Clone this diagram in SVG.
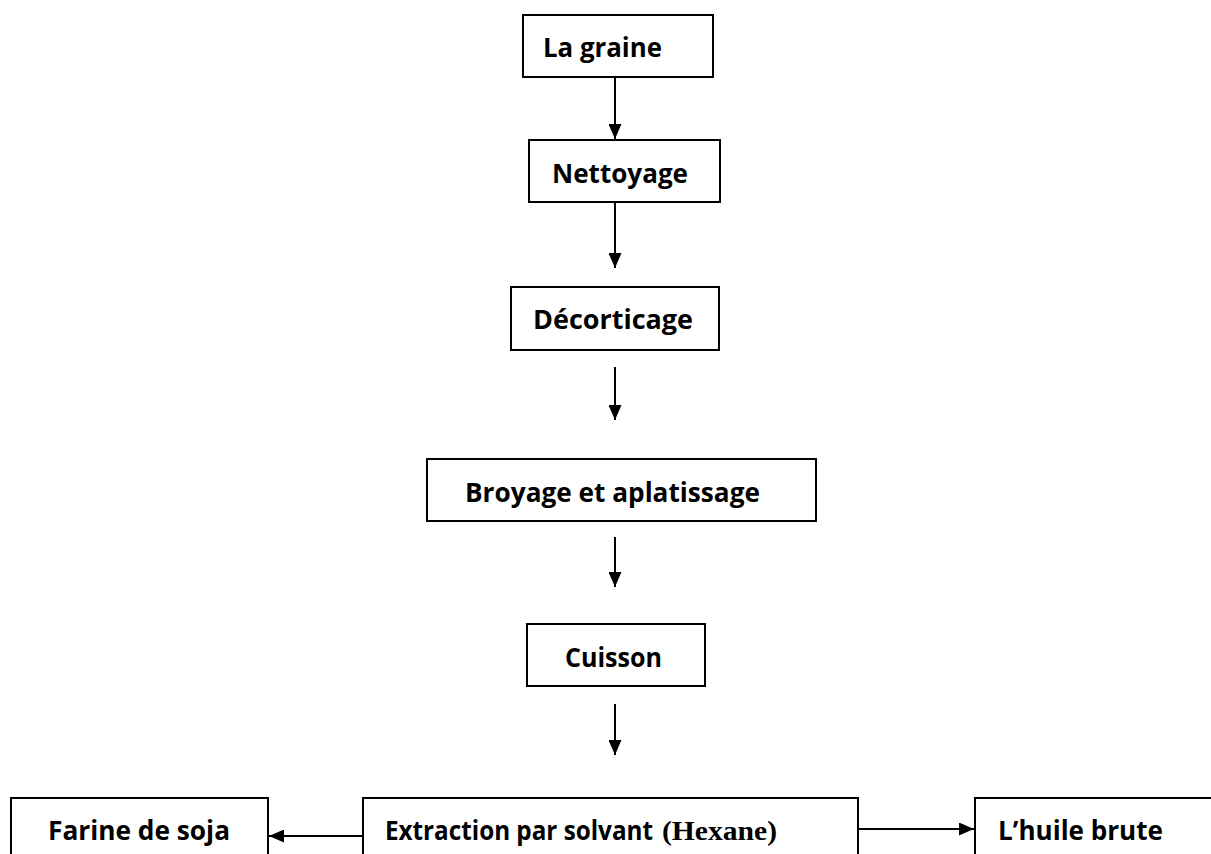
<svg xmlns="http://www.w3.org/2000/svg" width="1211" height="854" viewBox="0 0 1211 854">
<defs>
<marker id="ah" viewBox="0 0 15 13" refX="15" refY="6.5" markerWidth="15" markerHeight="13" markerUnits="userSpaceOnUse" orient="auto">
<path d="M0,0 L15,6.5 L0,13 Z" fill="#000"/>
</marker>
<style>
.box{fill:#fff;stroke:#000;stroke-width:2}
.t{font-family:"Open Sans",Lato,"Liberation Sans",sans-serif;font-weight:bold;font-size:26px;fill:#000}
.s{font-family:"Liberation Serif",serif;font-weight:bold;font-size:28px}
.c{stroke:#000;stroke-width:2;fill:none;marker-end:url(#ah)}
</style>
</defs>
<rect width="1211" height="854" fill="#fff"/>
<g id="n1"><rect class="box" x="523" y="15" width="190" height="62"/><text class="t" x="543" y="57" textLength="119" lengthAdjust="spacingAndGlyphs">La graine</text></g>
<g id="n2"><rect class="box" x="529" y="140" width="191" height="62"/><text class="t" x="552" y="183" textLength="136" lengthAdjust="spacingAndGlyphs">Nettoyage</text></g>
<g id="n3"><rect class="box" x="511" y="287" width="208" height="63"/><text class="t" x="533" y="329" textLength="160" lengthAdjust="spacingAndGlyphs">Décorticage</text></g>
<g id="n4"><rect class="box" x="427" y="459" width="389" height="62"/><text class="t" x="465" y="502" textLength="295" lengthAdjust="spacingAndGlyphs">Broyage et aplatissage</text></g>
<g id="n5"><rect class="box" x="527" y="624" width="178" height="62"/><text class="t" x="565" y="667" textLength="97" lengthAdjust="spacingAndGlyphs">Cuisson</text></g>
<g id="n6"><rect class="box" x="11" y="798" width="257" height="70"/><text class="t" x="48" y="840" textLength="182" lengthAdjust="spacingAndGlyphs">Farine de soja</text></g>
<g id="n7"><rect class="box" x="363" y="798" width="495" height="70"/><text class="t" x="385" y="840" textLength="268" lengthAdjust="spacingAndGlyphs">Extraction par solvant</text><text class="s" x="662" y="840" textLength="115" lengthAdjust="spacingAndGlyphs">(Hexane)</text></g>
<g id="n8"><rect class="box" x="975" y="798" width="250" height="70"/><text class="t" x="998" y="840" textLength="165" lengthAdjust="spacingAndGlyphs">L’huile brute</text></g>
<g id="connectors">
<line class="c" x1="615" y1="77" x2="615" y2="139"/>
<line class="c" x1="615" y1="202" x2="615" y2="268"/>
<line class="c" x1="615" y1="367" x2="615" y2="420"/>
<line class="c" x1="615" y1="537" x2="615" y2="587"/>
<line class="c" x1="615" y1="704" x2="615" y2="755"/>
<line class="c" x1="363" y1="836" x2="269" y2="836"/>
<line class="c" x1="858" y1="829" x2="974" y2="829"/>
</g>
</svg>
